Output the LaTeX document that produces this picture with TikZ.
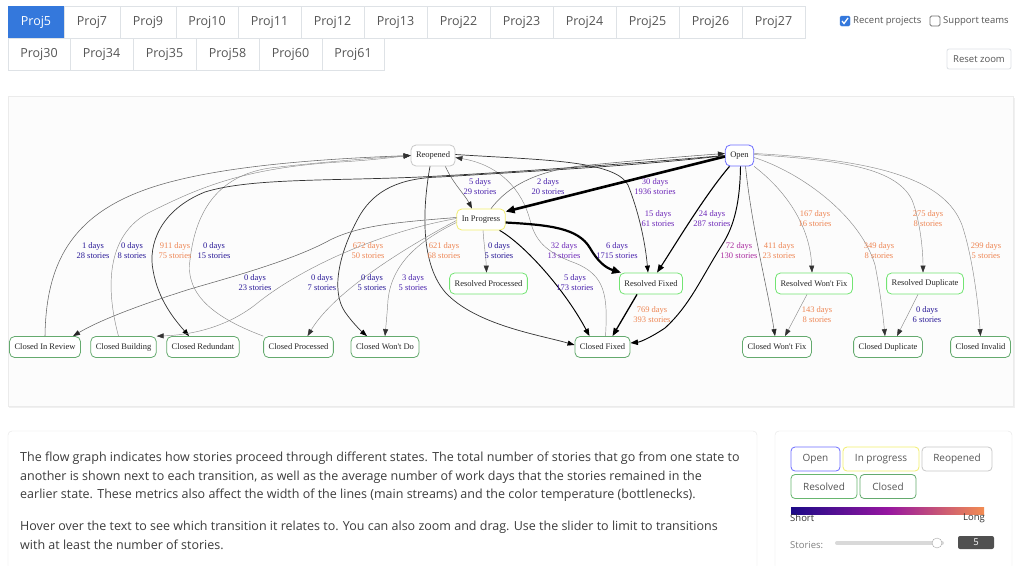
\documentclass[tikz,border=0pt]{standalone}
\usepackage{fontspec}
\setmainfont{Open Sans}
\newfontfamily\graphfont{Liberation Serif}
\usetikzlibrary{arrows.meta}

\definecolor{tabblue}{RGB}{52,120,220}
\definecolor{tabline}{RGB}{222,226,230}
\definecolor{uitext}{RGB}{85,85,85}
\definecolor{bodytext}{RGB}{60,60,60}
\definecolor{openblue}{RGB}{110,110,255}
\definecolor{progyellow}{RGB}{242,238,110}
\definecolor{reopgray}{RGB}{200,200,200}
\definecolor{resgreen}{RGB}{115,228,115}
\definecolor{closgreen}{RGB}{100,170,110}
\definecolor{dayshort}{RGB}{40,24,150}
\definecolor{daylow}{RGB}{72,32,172}
\definecolor{daymid}{RGB}{108,38,184}
\definecolor{daymag}{RGB}{170,44,160}
\definecolor{daylong}{RGB}{238,134,84}
\definecolor{barnavy}{RGB}{28,10,135}
\definecolor{barmagenta}{RGB}{150,22,160}
\definecolor{barorange}{RGB}{242,140,82}
\definecolor{sliderbox}{RGB}{80,80,80}

\tikzset{
  tab/.style={draw=tabline, line width=0.8pt, fill=white, text=uitext, inner sep=0pt, minimum height=32pt, text height=9pt, text depth=2pt, font=\fontsize{12.5}{14}\selectfont},
  state/.style={draw, line width=0.8pt, rounded corners=5pt, fill=white, inner xsep=5pt, inner ysep=0pt, minimum height=21pt, text=black!85, font=\graphfont\fontsize{8.5}{10}\selectfont},
  openst/.style={state, draw=openblue},
  progst/.style={state, draw=progyellow},
  reopst/.style={state, draw=reopgray},
  resst/.style={state, draw=resgreen},
  closst/.style={state, draw=closgreen},
  stat/.style={inner sep=0pt, align=center, font=\graphfont\fontsize{8.5}{10}\selectfont},
  flowthin/.style={draw=black!45, line width=0.45pt, -{Triangle[length=7pt,width=5pt,color=black!80]}},
  flowlight/.style={draw=black!60, line width=0.55pt, -{Triangle[length=7pt,width=5pt,color=black!85]}},
  flowdark/.style={draw=black!80, line width=0.7pt, -{Triangle[length=7pt,width=5pt,color=black]}},
  flowbold/.style={draw=black, line width=0.95pt, -{Triangle[length=7.5pt,width=5.5pt]}},
  flowheavy/.style={draw=black, line width=1.3pt, -{Triangle[length=8pt,width=6pt]}},
  flowmain/.style={draw=black, line width=2.2pt, -{Triangle[length=9pt,width=7.5pt]}},
  legbtn/.style={draw, line width=0.8pt, rounded corners=4pt, inner sep=0pt, minimum height=24pt, text=uitext, font=\fontsize{10}{12}\selectfont},
  uismall/.style={inner sep=0pt, text=uitext, font=\fontsize{9.5}{11}\selectfont}
}

\begin{document}
\begin{tikzpicture}[x=1pt, y=-1pt]
\useasboundingbox (0,0) rectangle (1017,565);
\fill[white] (0,0) rectangle (1017,565);

% project tabs
\node[tab, fill=tabblue, draw=tabblue, text=white, minimum width=56pt] (tab5) at (36,22) {Proj5};
\foreach \num/\xa/\xb in {7/64/120, 9/120/176, 10/176/238, 11/238/301, 12/301/364, 13/364/427, 22/427/490, 23/490/553, 24/553/616, 25/616/679, 26/679/742, 27/742/805}
  \node[tab, minimum width={(\xb-\xa)*1pt}] (tab\num) at ({(\xa+\xb)/2},22) {Proj\num};
\foreach \num/\xa/\xb in {30/8/70, 34/70/133, 35/133/196, 58/196/259, 60/259/322, 61/322/384}
  \node[tab, minimum width={(\xb-\xa)*1pt}] (tab\num) at ({(\xa+\xb)/2},54) {Proj\num};

% filters
\node[draw=tabblue, fill=tabblue, rounded corners=1.5pt, minimum size=10pt, inner sep=0pt] (chkrecent) at (845,21) {};
\draw[white, line width=1.3pt] ([xshift=-3pt]chkrecent.center) -- ++(2,2.5) -- ++(4,-5.5);
\node[uismall, anchor=west] (recent) at (853,21) {Recent projects};
\node[draw=black!55, line width=0.8pt, fill=white, rounded corners=1.5pt, minimum size=10pt, inner sep=0pt] (chksupport) at (935,21) {};
\node[uismall, anchor=west] (support) at (943,21) {Support teams};
\node[draw=tabline, line width=0.8pt, rounded corners=2pt, minimum width=64pt, minimum height=20pt, inner sep=0pt, text=uitext, font=\fontsize{9.5}{11}\selectfont] (reset) at (979,59) {Reset zoom};

% graph panel
\fill[black!6] (9,98) rectangle (1015,408);
\filldraw[fill=black!1, draw=black!8] (8,96) rectangle (1013,406);

% states
\node[reopst] (reop) at (433,155.5) {Reopened};
\node[openst] (open) at (739.5,155.5) {Open};
\node[progst] (inpr) at (481,219.5) {In Progress};
\node[resst] (rproc) at (488.5,283.5) {Resolved Processed};
\node[resst] (rfix) at (651,283.5) {Resolved Fixed};
\node[resst] (rwfix) at (814,283.5) {Resolved Won't Fix};
\node[resst] (rdup) at (925,283.5) {Resolved Duplicate};
\node[closst] (crev) at (45,347) {Closed In Review};
\node[closst] (cbld) at (123.5,347) {Closed Building};
\node[closst] (cred) at (203,347) {Closed Redundant};
\node[closst] (cproc) at (298.5,347) {Closed Processed};
\node[closst] (cwdo) at (385,347) {Closed Won't Do};
\node[closst] (cfix) at (602.5,347) {Closed Fixed};
\node[closst] (cwfix) at (777,347) {Closed Won't Fix};
\node[closst] (cdup) at (888,347) {Closed Duplicate};
\node[closst] (cinv) at (980.5,347) {Closed Invalid};

% back to Reopened
\draw[flowlight] (crev.north) .. controls (46,265) and (70,215) .. (150,188) .. controls (215,166) and (320,159) .. (reop.west);
\draw[flowthin] ([xshift=-5pt]cbld.north) .. controls (106,290) and (105,235) .. (150,212) .. controls (195,190) and (240,168) .. (340,162) .. controls (375,160) and (395,157) .. (reop.west);
\draw[flowthin] (cproc.north west) .. controls (215,318) and (185,295) .. (190,260) .. controls (195,215) and (215,176) .. (270,168) .. controls (330,161) and (390,157) .. (reop.west);
\draw[flowthin] ([xshift=3pt]cfix.north) .. controls (608,295) and (605,275) .. (575,263) .. controls (545,252) and (535,240) .. (530,220) .. controls (522,190) and (500,165) .. ([yshift=-2pt]reop.east);

% from Reopened
\draw[flowlight] ([xshift=-10pt]reop.south east) .. controls (452,182) and (465,195) .. ([xshift=-9pt]inpr.north);
\draw[flowdark] ([yshift=1pt]reop.east) .. controls (540,160) and (615,160) .. (628,185) .. controls (638,210) and (645,240) .. ([xshift=-3pt]rfix.north);
\draw[flowdark] ([xshift=-3pt]reop.south) .. controls (424,200) and (418,260) .. (445,292) .. controls (475,325) and (540,335) .. ([yshift=2pt]cfix.west);

% from Open
\draw[flowmain, line width=2.6pt] ([yshift=-1pt]open.west) -- ([yshift=-3pt]inpr.north east);
\draw[flowdark] (open.west) .. controls (650,162) and (520,172) .. (420,177) .. controls (330,181) and (250,178) .. (205,192) .. controls (160,210) and (148,245) .. (153,270) .. controls (158,300) and (175,320) .. ([xshift=-14pt]cred.north);
\draw[flowdark] (open.west) .. controls (650,165) and (520,172) .. (440,177) .. controls (400,178) and (375,190) .. (360,215) .. controls (340,250) and (330,290) .. (345,312) .. controls (352,322) and (360,330) .. ([xshift=-18pt]cwdo.north);
\draw[flowheavy, line width=1.1pt] ([xshift=-10pt]open.south) .. controls (705,195) and (675,245) .. ([xshift=6pt]rfix.north);
\draw[flowbold] ([xshift=1pt]open.south) .. controls (740,200) and (735,225) .. (722,245) .. controls (700,280) and (690,305) .. (665,328) .. controls (650,338) and (640,342) .. ([yshift=4pt]cfix.east);
\draw[flowlight] ([xshift=6pt]open.south) .. controls (752,230) and (768,290) .. ([xshift=-2pt]cwfix.north);
\draw[flowthin] (open.south east) .. controls (785,190) and (810,225) .. ([xshift=-2pt]rwfix.north);
\draw[flowthin] ([yshift=-2pt]open.east) .. controls (800,172) and (860,215) .. (875,265) .. controls (880,290) and (883,315) .. ([xshift=-3pt]cdup.north);
\draw[flowthin] ([yshift=1pt]open.east) .. controls (830,160) and (895,165) .. (912,200) .. controls (920,220) and (923,250) .. ([xshift=-2pt]rdup.north);
\draw[flowthin] ([yshift=2pt]open.east) .. controls (880,160) and (945,180) .. (962,225) .. controls (972,255) and (978,300) .. (cinv.north);

% from In Progress
\draw[flowlight] ([xshift=10pt]inpr.north) .. controls (505,190) and (530,172) .. (580,166) .. controls (640,160) and (690,156) .. ([yshift=2pt]open.west);
\draw[flowmain] ([yshift=-3pt]inpr.east) .. controls (550,225) and (578,228) .. (590,248) .. controls (598,262) and (606,268) .. ([xshift=2pt]rfix.north west);
\draw[flowbold] ([xshift=-6pt]inpr.south east) .. controls (525,245) and (565,290) .. ([xshift=-13pt]cfix.north);
\draw[flowthin] ([xshift=2pt]inpr.south) .. controls (484,245) and (486,258) .. ([xshift=-2pt]rproc.north);
\draw[flowthin] ([yshift=-3pt]inpr.west) .. controls (425,238) and (392,260) .. (388,300) .. controls (387,315) and (386,325) .. (cwdo.north);
\draw[flowthin] ([yshift=-1pt]inpr.west) .. controls (410,245) and (335,290) .. ([xshift=9pt]cproc.north);
\draw[flowthin] ([yshift=1pt]inpr.west) .. controls (380,232) and (300,268) .. (255,305) .. controls (225,328) and (190,335) .. (cbld.north east);
\draw[flowlight] ([yshift=2pt]inpr.west) .. controls (400,222) and (360,225) .. (330,240) .. controls (290,262) and (220,280) .. (187,290) .. controls (140,305) and (100,320) .. ([xshift=28pt]crev.north);

% from Resolved
\draw[flowheavy] ([xshift=-14pt]rfix.south) -- ([xshift=10pt]cfix.north);
\draw[flowthin] ([xshift=-7pt]rwfix.south) -- ([xshift=8pt]cwfix.north);
\draw[flowthin] ([xshift=-7pt]rdup.south) -- ([xshift=9pt]cdup.north);

% days / stories per transition
\node[stat, text=dayshort] (s-crev) at (93,251) {1 days\\28 stories};
\node[stat, text=dayshort] (s-cbld) at (132,251) {0 days\\8 stories};
\node[stat, text=daylong] (s-cred) at (175,251) {911 days\\75 stories};
\node[stat, text=dayshort] (s-cproc) at (214,251) {0 days\\15 stories};
\node[stat, text=dayshort] (s-tocrev) at (255,283) {0 days\\23 stories};
\node[stat, text=dayshort] (s-tocbld) at (322,283) {0 days\\7 stories};
\node[stat, text=daylong] (s-tocwdo) at (368,251) {672 days\\50 stories};
\node[stat, text=dayshort] (s-tocproc) at (372,283) {0 days\\5 stories};
\node[stat, text=daylow] (s-prwdo) at (413,283) {3 days\\5 stories};
\node[stat, text=daylong] (s-reopfix) at (444,251) {621 days\\68 stories};
\node[stat, text=daylow] (s-reoppr) at (480,187) {5 days\\29 stories};
\node[stat, text=dayshort] (s-rproc) at (499,251) {0 days\\5 stories};
\node[stat, text=daylow] (s-propen) at (548,187) {2 days\\20 stories};
\node[stat, text=daymid] (s-cfix) at (564,251) {32 days\\13 stories};
\node[stat, text=daylow] (s-prcfix) at (575,283) {5 days\\173 stories};
\node[stat, text=daylow] (s-prrfix) at (617,251) {6 days\\1715 stories};
\node[stat, text=daymid] (s-openpr) at (655,187) {30 days\\1936 stories};
\node[stat, text=daymid] (s-reoprfix) at (658,219) {15 days\\61 stories};
\node[stat, text=daylong] (s-rfix) at (652,315) {769 days\\393 stories};
\node[stat, text=daymid] (s-openrfix) at (712,219) {24 days\\287 stories};
\node[stat, text=daymag] (s-opencfix) at (739,251) {72 days\\130 stories};
\node[stat, text=daylong] (s-opencwfix) at (779,251) {411 days\\23 stories};
\node[stat, text=daylong] (s-openrwfix) at (815,219) {167 days\\16 stories};
\node[stat, text=daylong] (s-rwfix) at (817,315) {143 days\\8 stories};
\node[stat, text=daylong] (s-opencdup) at (879,251) {349 days\\8 stories};
\node[stat, text=daylong] (s-openrdup) at (928,219) {275 days\\8 stories};
\node[stat, text=dayshort] (s-rdup) at (927,315) {0 days\\6 stories};
\node[stat, text=daylong] (s-opencinv) at (986,251) {299 days\\5 stories};

% description
\filldraw[fill=white, draw=black!10, rounded corners=4pt] (8,431) rectangle (757,580);
\node[anchor=north west, align=left, inner sep=0pt, text=bodytext, font=\fontsize{12.5}{18.5}\selectfont] (intro) at (20,452) {The flow graph indicates how stories proceed through different states. The total number of stories that go from one state to\\another is shown next to each transition, as well as the average number of work days that the stories remained in the\\earlier state. These metrics also affect the width of the lines (main streams) and the color temperature (bottlenecks).};
\node[anchor=north west, align=left, inner sep=0pt, text=bodytext, font=\fontsize{12.5}{18.5}\selectfont] (hint) at (20,521) {Hover over the text to see which transition it relates to. You can also zoom and drag. Use the slider to limit to transitions\\with at least the number of stories.};

% legend
\filldraw[fill=white, draw=black!10, rounded corners=4pt] (775,431) rectangle (1012,580);
\node[legbtn, draw=openblue, minimum width=49pt] (legopen) at (815.5,459) {Open};
\node[legbtn, draw=progyellow, minimum width=76pt] (legprog) at (881,459) {In progress};
\node[legbtn, draw=reopgray, minimum width=70pt] (legreop) at (957,459) {Reopened};
\node[legbtn, draw=closgreen!80!resgreen, minimum width=66pt] (legres) at (824,486.5) {Resolved};
\node[legbtn, draw=closgreen, minimum width=56pt] (legclos) at (888,486.5) {Closed};
\shade[left color=barnavy, right color=barmagenta] (791,507) rectangle (888,514);
\shade[left color=barmagenta, right color=barorange] (887.5,507) rectangle (984,514);
\node[anchor=north west, inner sep=0pt, text=black!80, font=\fontsize{9.5}{11}\selectfont] (short) at (790,514) {Short};
\node[anchor=north east, inner sep=0pt, text=black!80, font=\fontsize{9.5}{11}\selectfont] (long) at (985,514) {Long};
\node[uismall, anchor=west, text=black!50] (storieslbl) at (790,545) {Stories:};
\draw[black!15, line width=4pt, line cap=round] (837,543) -- (942,543);
\node[circle, draw=black!35, fill=white, minimum size=10pt, inner sep=0pt] (knob) at (937,543) {};
\node[fill=sliderbox, rounded corners=2pt, minimum width=36pt, minimum height=13pt, inner sep=0pt, text=white, font=\fontsize{9.5}{11}\selectfont] (storiesval) at (976,542.5) {5};
\end{tikzpicture}
\end{document}
